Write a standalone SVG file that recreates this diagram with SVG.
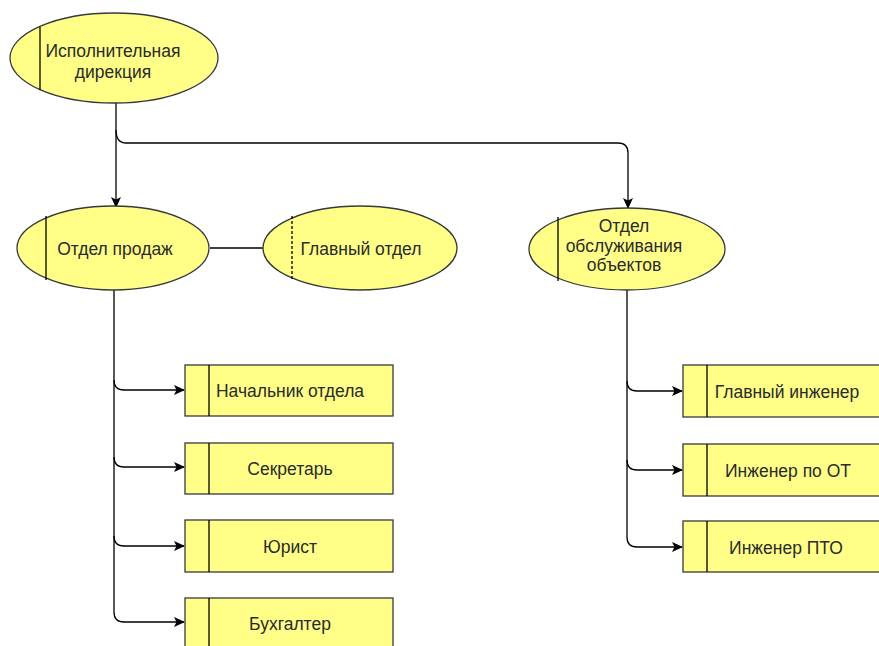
<svg xmlns="http://www.w3.org/2000/svg" width="879" height="646" viewBox="0 0 879 646">
<defs>
<style>
.n{fill:#ffff88;stroke:#36393d;stroke-width:1.3}
.d{stroke:#000;stroke-width:1.3;fill:none}
.c{stroke:#000;stroke-width:1.3;fill:none}
.t{font-family:"Liberation Sans",Arial,sans-serif;font-size:17.5px;fill:#2a2a2a;text-anchor:middle}
</style>
<marker id="a" markerWidth="12" markerHeight="12" refX="10" refY="6" orient="auto" markerUnits="userSpaceOnUse">
<path d="M0,1 L11,6 L0,11 L2.5,6 Z" fill="#000"/>
</marker>
</defs>
<rect width="879" height="646" fill="#fff"/>
<g id="connectors">
<path class="c" d="M116,103 V207" marker-end="url(#a)"/>
<path class="c" d="M116,130 Q116,143 126,143 H618 Q628,143 628,153 V208" marker-end="url(#a)"/>
<path class="c" d="M210,248 H263"/>
<path class="c" d="M114,290 V380 Q114,390 124,390 H184" marker-end="url(#a)"/>
<path class="c" d="M114,380 V457 Q114,467 124,467 H184" marker-end="url(#a)"/>
<path class="c" d="M114,457 V536 Q114,546 124,546 H184" marker-end="url(#a)"/>
<path class="c" d="M114,536 V612 Q114,622 124,622 H184" marker-end="url(#a)"/>
<path class="c" d="M627,290 V381 Q627,391 637,391 H682" marker-end="url(#a)"/>
<path class="c" d="M627,381 V460 Q627,470 637,470 H682" marker-end="url(#a)"/>
<path class="c" d="M627,460 V537 Q627,547 637,547 H682" marker-end="url(#a)"/>
</g>
<g id="n-direction">
<ellipse class="n" cx="114" cy="58" rx="104" ry="45"/>
<line class="d" x1="40" y1="27" x2="40" y2="90"/>
<text class="t" x="113" y="57">Исполнительная</text>
<text class="t" x="113" y="78">дирекция</text>
</g>
<g id="n-sales">
<ellipse class="n" cx="113" cy="248" rx="96" ry="42"/>
<line class="d" x1="46" y1="216" x2="46" y2="280"/>
<text class="t" x="115" y="255">Отдел продаж</text>
</g>
<g id="n-main">
<ellipse class="n" cx="360" cy="248" rx="97" ry="42"/>
<line class="d" x1="292" y1="216" x2="292" y2="280" stroke-dasharray="3,2"/>
<text class="t" x="361" y="255">Главный отдел</text>
</g>
<g id="n-service">
<ellipse class="n" cx="627" cy="249" rx="98" ry="41"/>
<line class="d" x1="558" y1="217" x2="558" y2="281"/>
<text class="t" x="624" y="232">Отдел</text>
<text class="t" x="624" y="251.5">обслуживания</text>
<text class="t" x="624" y="271">объектов</text>
</g>
<g id="n-head">
<rect class="n" x="185" y="365" width="208" height="51"/>
<line class="d" x1="209" y1="365" x2="209" y2="416"/>
<text class="t" x="290" y="397">Начальник отдела</text>
</g>
<g id="n-secretary">
<rect class="n" x="185" y="443" width="208" height="51"/>
<line class="d" x1="209" y1="443" x2="209" y2="494"/>
<text class="t" x="290" y="475">Секретарь</text>
</g>
<g id="n-lawyer">
<rect class="n" x="185" y="520" width="208" height="52"/>
<line class="d" x1="209" y1="520" x2="209" y2="572"/>
<text class="t" x="290" y="553">Юрист</text>
</g>
<g id="n-accountant">
<rect class="n" x="185" y="598" width="208" height="52"/>
<line class="d" x1="209" y1="598" x2="209" y2="650"/>
<text class="t" x="290" y="630">Бухгалтер</text>
</g>
<g id="n-chief-eng">
<rect class="n" x="683" y="365" width="208" height="52"/>
<line class="d" x1="707" y1="365" x2="707" y2="417"/>
<text class="t" x="787" y="398">Главный инженер</text>
</g>
<g id="n-ot-eng">
<rect class="n" x="683" y="444" width="208" height="52"/>
<line class="d" x1="707" y1="444" x2="707" y2="496"/>
<text class="t" x="788" y="477">Инженер по ОТ</text>
</g>
<g id="n-pto-eng">
<rect class="n" x="683" y="521" width="208" height="51"/>
<line class="d" x1="707" y1="521" x2="707" y2="572"/>
<text class="t" x="786" y="554">Инженер ПТО</text>
</g>
</svg>
